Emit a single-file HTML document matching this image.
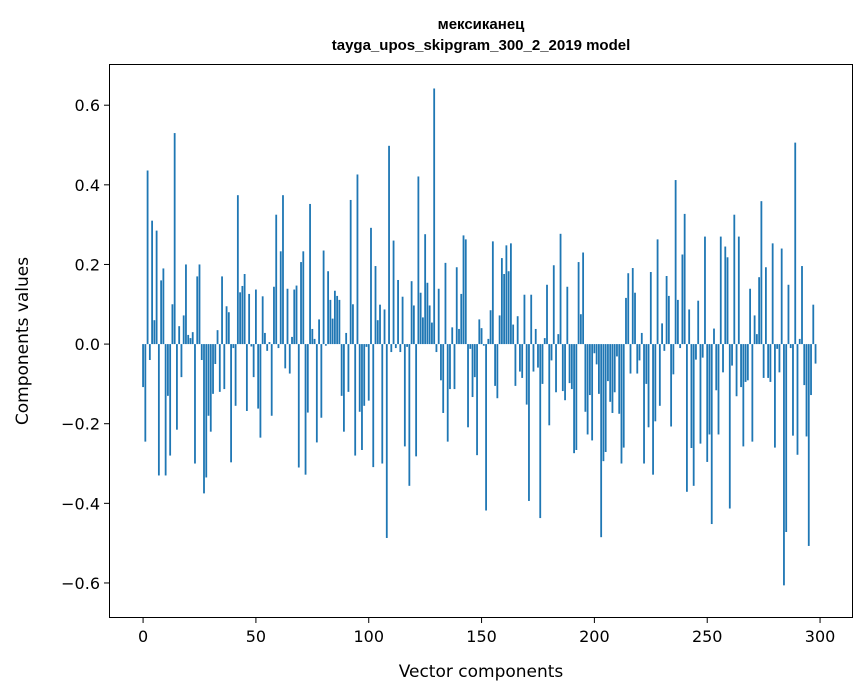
<!DOCTYPE html>
<html><head><meta charset="utf-8">
<style>
html,body{margin:0;padding:0;background:#fff;}
svg{display:block;font-family:"DejaVu Sans","Liberation Sans",sans-serif;}
</style></head>
<body>
<svg id="chart" width="867" height="696" viewBox="0 0 867 696">
<rect width="867" height="696" fill="#fff"/>
<text x="481" y="29" text-anchor="middle" font-size="15" font-weight="bold" font-family="'Liberation Sans','DejaVu Sans',sans-serif">мексиканец</text>
<text x="481" y="50" text-anchor="middle" font-size="15" font-weight="bold" font-family="'Liberation Sans','DejaVu Sans',sans-serif">tayga_upos_skipgram_300_2_2019 model</text>
<g id="bars"></g>
<g id="xticks"></g>
<g id="yticks"></g>
<rect x="109.5" y="64.5" width="743" height="553" fill="none" stroke="#000" stroke-width="1"/>
<text x="481" y="677" text-anchor="middle" font-size="17">Vector components</text>
<text transform="translate(28,341) rotate(-90)" text-anchor="middle" font-size="17">Components values</text>
</svg>
<script>
const values = [
-0.108,-0.245,0.436,-0.04,0.31,0.06,0.285,-0.33,0.16,0.19,
-0.33,-0.13,-0.28,0.10,0.53,-0.215,0.045,-0.083,0.072,0.2,
0.023,0.015,0.03,-0.30,0.17,0.2,-0.04,-0.375,-0.335,-0.18,
-0.22,-0.125,-0.05,0.035,-0.12,0.17,-0.113,0.095,0.08,-0.297,
-0.01,-0.155,0.374,0.13,0.146,0.176,-0.168,0.126,-0.006,-0.083,
0.137,-0.162,-0.235,0.12,0.028,-0.017,0.005,-0.18,0.144,0.325,
-0.01,0.233,0.374,-0.061,0.139,-0.074,0.018,0.137,0.147,-0.31,
0.206,0.233,-0.328,-0.172,0.352,0.038,0.013,-0.247,0.062,-0.185,
0.235,-0.004,0.183,0.111,0.064,0.134,0.121,0.111,-0.13,-0.22,
0.028,-0.12,0.362,0.10,-0.28,0.426,-0.17,-0.266,-0.155,-0.007,
-0.142,0.292,-0.309,0.196,0.06,0.099,-0.3,0.087,-0.487,0.498,
-0.02,0.26,-0.01,0.161,-0.02,0.119,-0.257,-0.007,-0.356,0.158,
0.097,-0.282,0.421,0.129,0.067,0.276,0.154,0.097,0.054,0.642,
-0.02,0.139,-0.091,-0.173,0.204,-0.245,-0.113,0.042,-0.113,0.193,
0.038,0.126,0.273,0.263,-0.209,-0.012,-0.133,-0.083,-0.279,0.062,
0.04,-0.004,-0.418,0.013,0.085,0.258,-0.105,-0.136,0.072,0.216,
0.176,0.248,0.183,0.253,0.049,-0.105,0.07,-0.069,-0.085,0.124,
-0.152,-0.394,0.124,-0.069,0.038,-0.059,-0.437,-0.1,0.015,0.149,
-0.204,-0.041,0.198,-0.121,0.025,0.277,-0.118,-0.141,0.144,-0.098,
-0.113,-0.274,-0.266,0.206,0.075,0.23,-0.17,-0.227,-0.128,-0.242,
-0.023,-0.051,-0.125,-0.485,-0.294,-0.271,-0.093,-0.145,-0.173,-0.121,
-0.031,-0.175,-0.3,-0.26,0.116,0.178,-0.074,0.191,0.129,-0.074,
-0.041,0.028,-0.3,-0.1,-0.209,0.181,-0.328,-0.194,0.263,-0.155,
0.052,-0.017,0.171,0.121,-0.207,-0.076,0.412,0.111,-0.01,0.225,
0.327,-0.371,0.087,-0.261,-0.356,-0.039,0.109,-0.25,-0.034,0.27,
-0.296,-0.227,-0.452,0.039,-0.116,-0.227,0.27,-0.071,0.245,0.218,
-0.413,-0.054,0.325,-0.131,0.27,-0.108,-0.257,-0.095,-0.091,0.139,
-0.245,0.072,0.025,0.168,0.359,-0.085,0.193,-0.085,-0.095,0.253,
-0.26,-0.012,-0.071,0.24,-0.606,-0.472,0.149,-0.01,-0.23,0.506,
-0.278,0.013,0.196,-0.103,-0.232,-0.507,-0.128,0.099,-0.049
];
const xTickLabels = ["0","50","100","150","200","250","300"];
const xTickValues = [0,50,100,150,200,250,300];
const yTickValues = [-0.6,-0.4,-0.2,0.0,0.2,0.4,0.6];
const yTickLabels = ["\u22120.6","\u22120.4","\u22120.2","0.0","0.2","0.4","0.6"];

const NS="http://www.w3.org/2000/svg";
const L=109,R=853,T=64,B=618;
const xMin=-15.1,xMax=314.6,yMin=-0.688,yMax=0.7035;
function xs(v){return L+(v-xMin)/(xMax-xMin)*(R-L);}
function ys(v){return B-(v-yMin)/(yMax-yMin)*(B-T);}
const bw=xs(0.8)-xs(0);
const gb=document.getElementById('bars');
values.forEach((v,i)=>{
  const r=document.createElementNS(NS,'rect');
  const y0=ys(0),y1=ys(v);
  r.setAttribute('x',xs(i)-bw/2);
  r.setAttribute('y',Math.min(y0,y1));
  r.setAttribute('width',bw);
  r.setAttribute('height',Math.abs(y1-y0));
  r.setAttribute('fill','#1f77b4');
  
  
  gb.appendChild(r);
});
const gx=document.getElementById('xticks');
xTickValues.forEach((v,i)=>{
  const x=xs(v);
  const l=document.createElementNS(NS,'line');
  l.setAttribute('x1',x);l.setAttribute('x2',x);l.setAttribute('y1',B);l.setAttribute('y2',B+5);
  l.setAttribute('stroke','#000');
  
  
  gx.appendChild(l);
  const t=document.createElementNS(NS,'text');
  t.setAttribute('x',x);t.setAttribute('y',B+24);t.setAttribute('text-anchor','middle');t.setAttribute('font-size','16');
  t.textContent=xTickLabels[i];
  
  
  gx.appendChild(t);
});
const gy=document.getElementById('yticks');
yTickValues.forEach((v,i)=>{
  const y=ys(v);
  const l=document.createElementNS(NS,'line');
  l.setAttribute('x1',L-5);l.setAttribute('x2',L);l.setAttribute('y1',y);l.setAttribute('y2',y);
  l.setAttribute('stroke','#000');
  
  
  gy.appendChild(l);
  const t=document.createElementNS(NS,'text');
  t.setAttribute('x',L-9);t.setAttribute('y',y+6);t.setAttribute('text-anchor','end');t.setAttribute('font-size','16');
  t.textContent=yTickLabels[i];
  
  
  gy.appendChild(t);
});
</script>
</body></html>
